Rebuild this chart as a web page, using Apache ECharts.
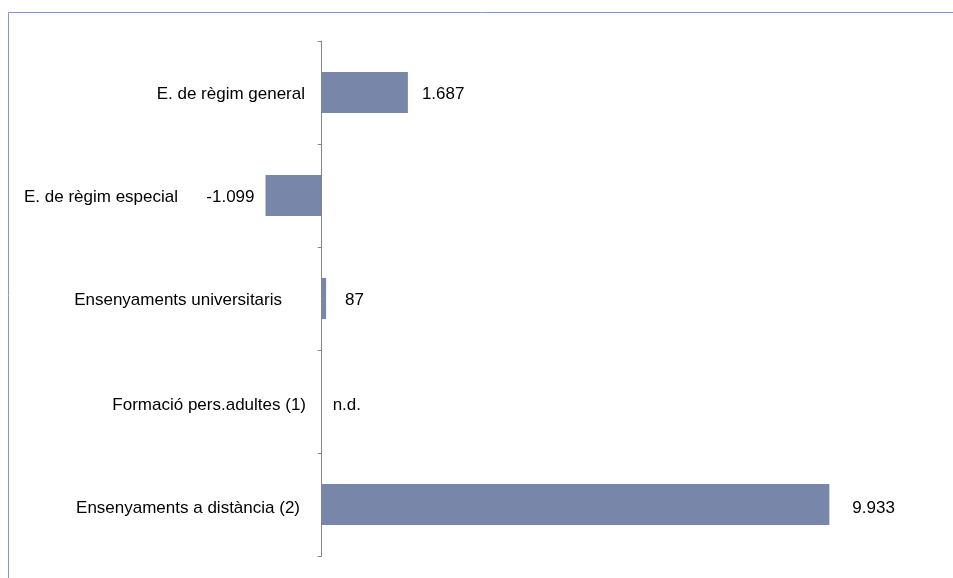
<!DOCTYPE html>
<html><head><meta charset="utf-8">
<script src="https://cdn.jsdelivr.net/npm/echarts@6/dist/echarts.min.js"></script>
<style>html,body{margin:0;padding:0;background:#fff}#c{width:953px;height:578px}</style>
</head><body><div id="c"></div>
<script>
const categories = ['E. de règim general','E. de règim especial','Ensenyaments universitaris','Formació pers.adultes (1)','Ensenyaments a distància (2)'];
const values = [1687, -1099, 87, 0, 9933];
const valueLabels = ['1.687','-1.099','87','n.d.','9.933'];

const catLabelExtra = [1, 128, 24, 0, 6];
const catLabelDrop = [4, 4, 4, 8, 8];
const valLabelDist = [14, 11, 19, 11, 23];
const rich = {};
catLabelExtra.forEach((p, i) => { rich['c' + i] = {fontFamily: 'Liberation Sans', fontSize: 17, color: '#000', padding: [catLabelDrop[i], p, 0, 0]}; });

const chart = echarts.init(document.getElementById('c'), null, {renderer: 'canvas'});
chart.setOption({
  animation: false,
  grid: {left: 15, width: 920, top: 41, bottom: 22, containLabel: false, outerBoundsMode: 'none'},
  xAxis: {type: 'value', min: -6000, max: 12000, show: false},
  yAxis: {
    type: 'category', inverse: true, data: categories,
    axisLine: {show: true, onZero: true, lineStyle: {color: '#868686', width: 1}},
    axisTick: {show: true, length: 4, inside: false, lineStyle: {color: '#868686'}},
    axisLabel: {margin: -291, interval: 0, hideOverlap: false, formatter: (v, i) => '{c' + i + '|' + v + '}', rich: rich}
  },
  series: [{
    type: 'bar', barWidth: '40%',
    itemStyle: {color: '#7886aa'},
    data: values.map((v, i) => ({
      value: v,
      label: {show: true, position: v < 0 ? 'left' : 'right', distance: valLabelDist[i], offset: [0, i >= 3 ? 4 : 2],
        formatter: () => valueLabels[i], fontFamily: 'Liberation Sans', fontSize: 17, color: '#000'}
    }))
  }],
  graphic: [{type: 'rect', shape: {x: 8.5, y: 12.5, width: 1000, height: 700},
    style: {fill: 'none', stroke: '#8497c8', lineWidth: 1}, silent: true}]
});
</script></body></html>
